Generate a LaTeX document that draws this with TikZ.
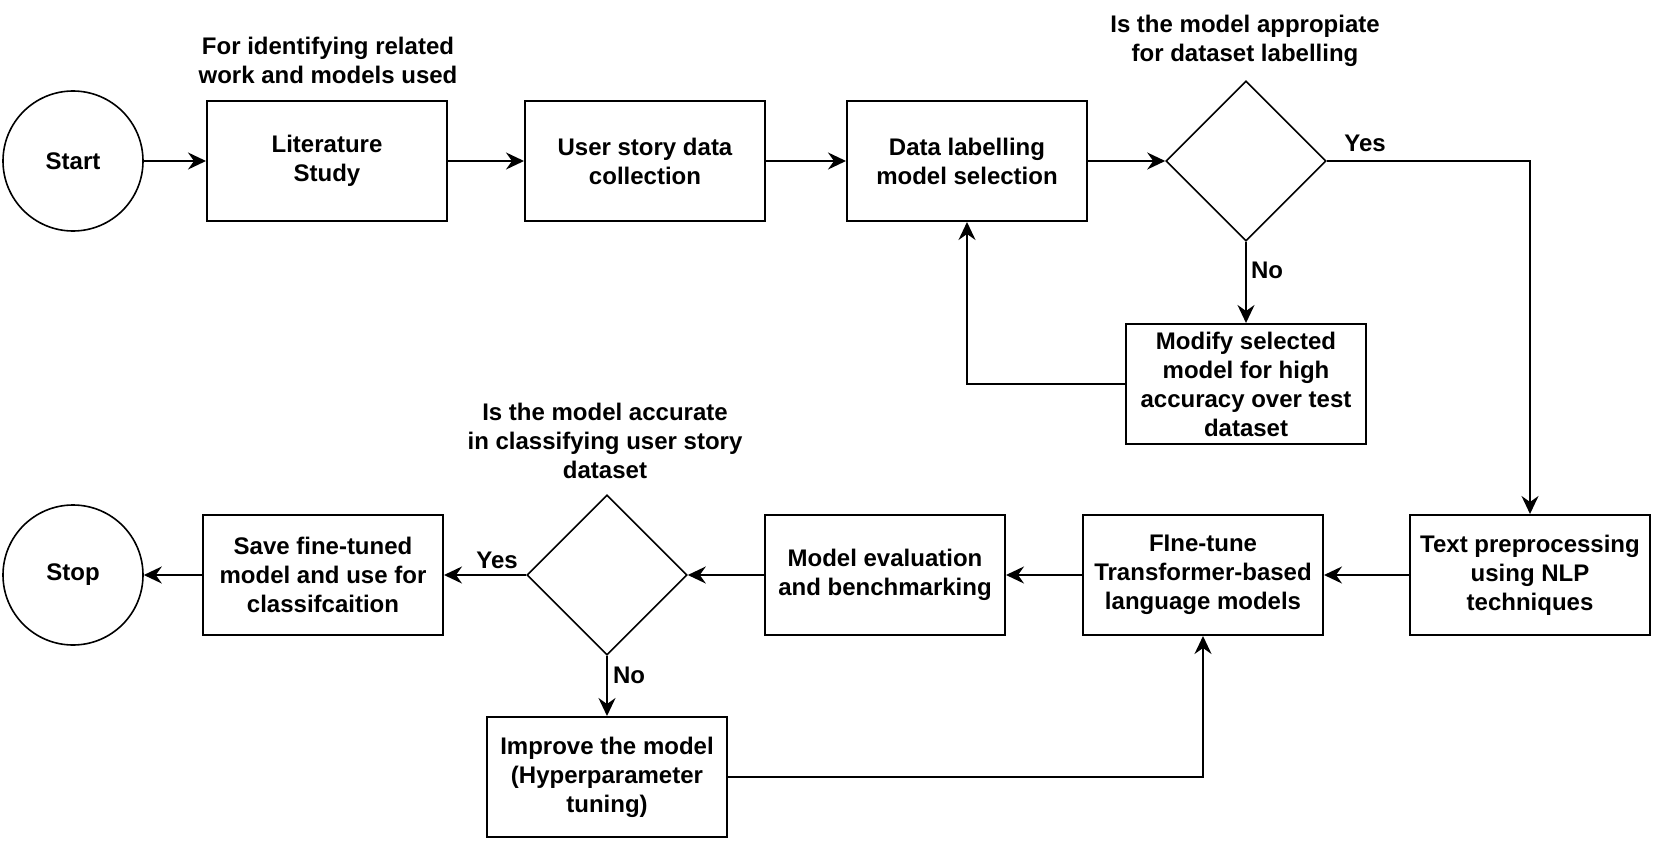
\documentclass[tikz,border=0pt]{standalone}
\usepackage{fontspec}
\setmainfont{Liberation Sans}
\usetikzlibrary{shapes.geometric,arrows.meta}
\begin{document}
\begin{tikzpicture}[x=1pt,y=-1pt,
 every node/.style={font=\fontsize{24}{29}\selectfont\bfseries},
 procbox/.style={draw, line width=2pt, minimum width=240pt, minimum height=120pt, align=center, inner sep=0pt},
 termnode/.style={draw, circle, line width=1.6pt, minimum size=140pt, inner sep=0pt},
 decnode/.style={draw, diamond, line width=1.6pt, minimum width=160pt, minimum height=160pt, inner sep=0pt},
 lbl/.style={align=center, inner sep=0pt},
 flow/.style={line width=2pt, -{Stealth[length=18pt,width=17pt,inset=6pt]}},
]
\useasboundingbox (0,0) rectangle (1653,845);
\fill[white] (0,0) rectangle (1653,845);
% row 1
\node[termnode] (start) at (73,161) {Start};
\node[procbox] (lit) at (327,161) {Literature\\Study};
\node[procbox] (user) at (645,161) {User story data\\collection};
\node[procbox] (data) at (967,161) {Data labelling\\model selection};
\node[decnode] (dec1) at (1246,161) {};
\node[procbox] (modify) at (1246,384) {Modify selected\\model for high\\accuracy over test\\dataset};
% row 2
\node[procbox] (prep) at (1530,575) {Text preprocessing\\using NLP\\techniques};
\node[procbox] (fine) at (1203,575) {FIne-tune\\Transformer-based\\language models};
\node[procbox] (eval) at (885,575) {Model evaluation\\and benchmarking};
\node[decnode] (dec2) at (607,575) {};
\node[procbox] (save) at (323,575) {Save fine-tuned\\model and use for\\classifcaition};
\node[termnode] (stop) at (73,575) {Stop};
\node[procbox] (improve) at (607,777) {Improve the model\\(Hyperparameter\\tuning)};
% labels
\node[lbl] (lblit) at (328,60) {For identifying related\\work and models used};
\node[lbl] (lbdec1) at (1245,41) {Is the model appropiate\\for dataset labelling};
\node[lbl] (lbdec2) at (605,441) {Is the model accurate\\in classifying user story\\dataset};
\node[lbl] (yes1) at (1365,143) {Yes};
\node[lbl] (no1) at (1267,270) {No};
\node[lbl] (yes2) at (497,560) {Yes};
\node[lbl] (no2) at (629,675) {No};
% connectors
\draw[flow] (start) -- (lit);
\draw[flow] (lit) -- (user);
\draw[flow] (user) -- (data);
\draw[flow] (data) -- (dec1.west);
\draw[flow] (dec1.east) -| (prep.north);
\draw[flow] (dec1.south) -- (modify.north);
\draw[flow] (modify.west) -| (data.south);
\draw[flow] (prep) -- (fine);
\draw[flow] (fine) -- (eval);
\draw[flow] (eval) -- (dec2.east);
\draw[flow] (dec2.west) -- (save.east);
\draw[flow] (save) -- (stop);
\draw[flow] (dec2.south) -- (improve.north);
\draw[flow] (improve.east) -| (fine.south);
\end{tikzpicture}
\end{document}
